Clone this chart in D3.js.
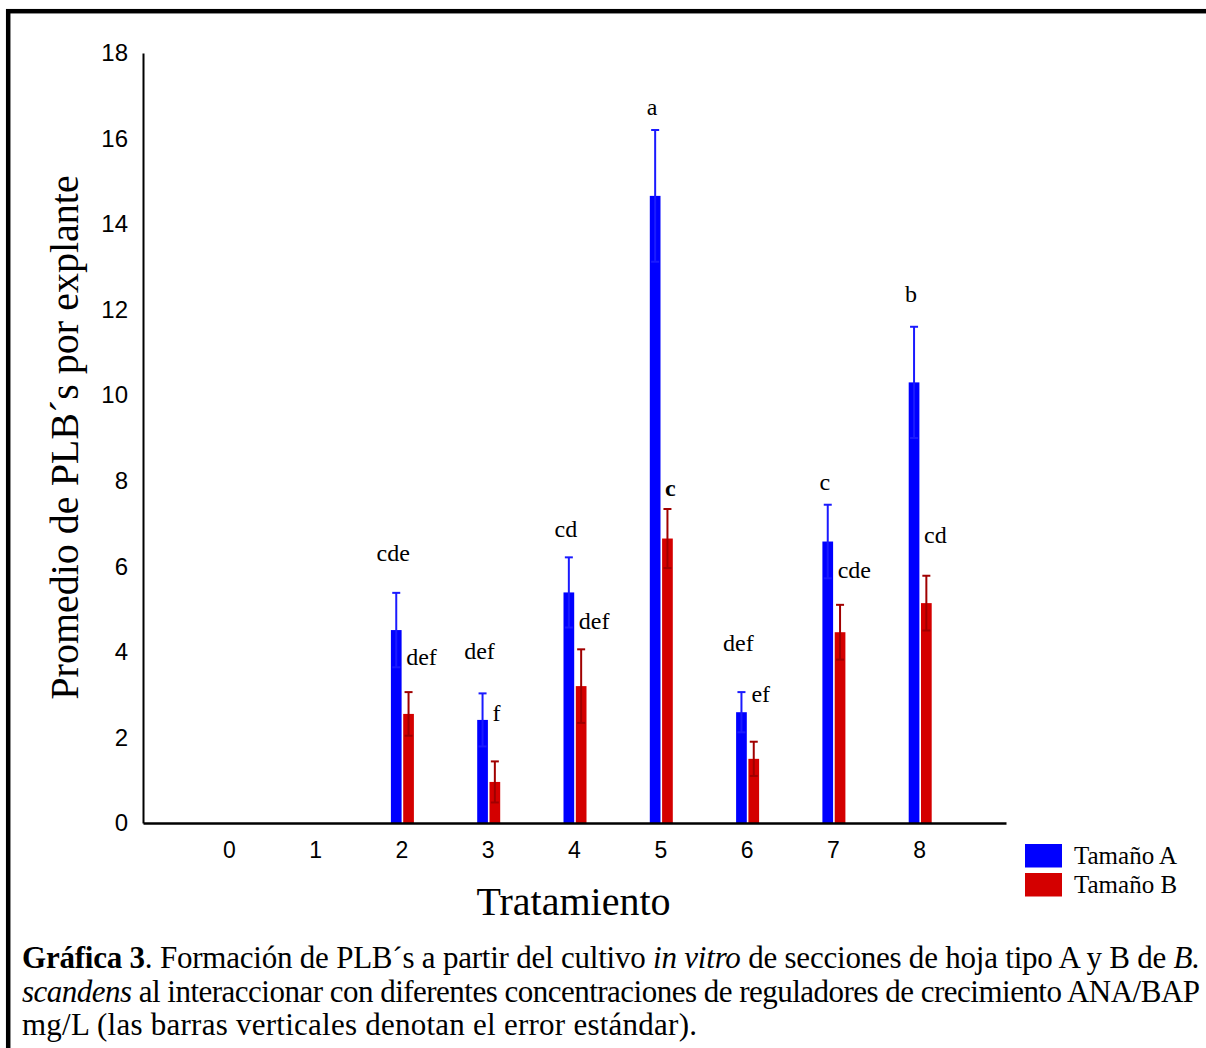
<!DOCTYPE html>
<html>
<head>
<meta charset="utf-8">
<script src="https://cdn.jsdelivr.net/npm/d3@7"></script>
<style>
  body { margin: 0; background: #fff; }
  svg { display: block; }
</style>
</head>
<body>
<svg id="chart"></svg>
<script>
// treatments on the x axis
const tratamientos = [0, 1, 2, 3, 4, 5, 6, 7, 8];
// mean PLB's per explant and standard error, leaf section size A
const tamanoA = [0, 0, 4.51, 2.41, 5.39, 14.66, 2.59, 6.58, 10.30];
const errorA = [0, 0, 0.87, 0.62, 0.82, 1.54, 0.47, 0.86, 1.30];
// leaf section size B
const tamanoB = [0, 0, 2.55, 0.96, 3.20, 6.65, 1.50, 4.46, 5.14];
const errorB = [0, 0, 0.51, 0.48, 0.86, 0.69, 0.40, 0.64, 0.64];
// significance letters and where they sit (in y units)
const letrasA = ["", "", "cde", "def", "cd", "a", "def", "c", "b"];
const letrasB = ["", "", "def", "f", "def", "c", "ef", "cde", "cd"];
const letraYA = [0, 0, 6.13, 3.83, 6.69, 16.55, 4.03, 7.78, 12.17];
const letraYB = [0, 0, 3.69, 2.38, 4.53, 7.64, 2.84, 5.72, 6.54];
const yTicks = [0, 2, 4, 6, 8, 10, 12, 14, 16, 18];
const series = ["Tamaño A", "Tamaño B"];
const colores = ["#0000ff", "#d40000"];
const coloresError = ["#1a1aff", "#a00000"];

function grafica() {
    const width = 1206;
    const height = 1048;
    const serif = "'Liberation Serif', 'Times New Roman', serif";
    const sans = "'Liberation Sans', Arial, sans-serif";

    const svg = d3.select("#chart")
        .attr("width", width)
        .attr("height", height);

    // outer frame, cut off at right and bottom like the original
    svg.append("rect")
        .attr("x", 8.2).attr("y", 11.2)
        .attr("width", 1400).attr("height", 1200)
        .attr("fill", "none")
        .attr("stroke", "#000")
        .attr("stroke-width", 4.5);

    const x = d3.scaleBand()
        .domain(tratamientos)
        .range([143, 1006])
        .paddingInner(0)
        .paddingOuter(0.5);
    const xSub = d3.scaleBand()
        .domain(series)
        .range([-11, 12])
        .paddingInner(0.13);
    const y = d3.scaleLinear()
        .domain([0, 18])
        .range([823, 53]);

    const rows = tratamientos.map((t, i) => [
        {t, s: 0, v: tamanoA[i], e: errorA[i], letra: letrasA[i], ly: letraYA[i]},
        {t, s: 1, v: tamanoB[i], e: errorB[i], letra: letrasB[i], ly: letraYB[i]}
    ]).flat();
    const cx = d => x(d.t) + x.bandwidth() / 2 + xSub(series[d.s]);
    const mid = d => cx(d) + xSub.bandwidth() / 2;

    // bars
    svg.append("g")
      .selectAll("rect")
      .data(rows.filter(d => d.v > 0))
      .join("rect")
        .attr("x", cx)
        .attr("y", d => y(d.v))
        .attr("width", xSub.bandwidth())
        .attr("height", d => y(0) - y(d.v))
        .attr("fill", d => colores[d.s]);

    // error bars
    const eb = svg.append("g")
      .selectAll("g")
      .data(rows.filter(d => d.v > 0))
      .join("g")
        .attr("stroke", d => coloresError[d.s])
        .attr("stroke-width", 2);
    eb.append("line")
        .attr("x1", mid).attr("x2", mid)
        .attr("y1", d => y(d.v - d.e))
        .attr("y2", d => y(d.v + d.e));
    eb.append("line")
        .attr("x1", d => mid(d) - 4).attr("x2", d => mid(d) + 4)
        .attr("y1", d => y(d.v + d.e)).attr("y2", d => y(d.v + d.e));
    eb.append("line")
        .attr("x1", d => mid(d) - 4).attr("x2", d => mid(d) + 4)
        .attr("y1", d => y(d.v - d.e)).attr("y2", d => y(d.v - d.e));

    // letters
    svg.append("g")
        .attr("font-family", serif)
        .attr("font-size", 24)
        .attr("fill", "#000")
      .selectAll("text")
      .data(rows.filter(d => d.letra))
      .join("text")
        .attr("x", d => d.s === 0 ? mid(d) - 3 : cx(d) + 3)
        .attr("y", d => y(d.ly))
        .attr("text-anchor", d => d.s === 0 ? "middle" : "start")
        .attr("font-weight", d => d.s === 1 && d.t === 5 ? "bold" : "normal")
        .text(d => d.letra);

    // axes
    svg.append("g")
        .attr("transform", `translate(143,0)`)
        .call(d3.axisLeft(y).tickValues(yTicks).tickSize(0).tickPadding(15))
        .call(g => g.select(".domain").attr("stroke-width", 2))
        .call(g => g.selectAll("text").attr("font-family", sans).attr("font-size", 24).attr("fill", "#000"));

    svg.append("g")
        .attr("transform", `translate(0,${y(0)})`)
        .call(d3.axisBottom(x).tickSize(0).tickPadding(19))
        .call(g => g.select(".domain").attr("stroke-width", 2.5))
        .call(g => g.selectAll("text").attr("font-family", sans).attr("font-size", 23).attr("fill", "#000"));

    // axis titles
    svg.append("text")
        .attr("transform", "translate(78,437.5) rotate(-90)")
        .attr("text-anchor", "middle")
        .attr("font-family", serif)
        .attr("font-size", 40)
        .text("Promedio de PLB´s por explante");

    svg.append("text")
        .attr("x", 573.5).attr("y", 915)
        .attr("text-anchor", "middle")
        .attr("font-family", serif)
        .attr("font-size", 40)
        .text("Tratamiento");

    // legend
    const legend = svg.append("g")
      .selectAll("g")
      .data(series)
      .join("g")
        .attr("transform", (d, i) => `translate(1025,${844 + i * 29})`);
    legend.append("rect")
        .attr("width", 37).attr("height", 23.5)
        .attr("fill", (d, i) => colores[i]);
    legend.append("text")
        .attr("x", 49).attr("y", 19.5)
        .attr("font-family", serif)
        .attr("font-size", 25)
        .text(d => d);

    // caption
    const cap = svg.append("g")
        .attr("font-family", serif)
        .attr("font-size", 31)
        .attr("fill", "#000");
    const l1 = cap.append("text")
        .attr("x", 22).attr("y", 968)
        .attr("textLength", 1178).attr("lengthAdjust", "spacing");
    l1.append("tspan").attr("font-weight", "bold").text("Gráfica 3");
    l1.append("tspan").text(". Formación de PLB´s a partir del cultivo ");
    l1.append("tspan").attr("font-style", "italic").text("in vitro");
    l1.append("tspan").text(" de secciones de hoja tipo A y B de ");
    l1.append("tspan").attr("font-style", "italic").text("B.");
    const l2 = cap.append("text")
        .attr("x", 22).attr("y", 1002)
        .attr("textLength", 1178).attr("lengthAdjust", "spacing");
    l2.append("tspan").attr("font-style", "italic").text("scandens");
    l2.append("tspan").text(" al interaccionar con diferentes concentraciones de reguladores de crecimiento ANA/BAP");
    cap.append("text")
        .attr("x", 22).attr("y", 1035)
        .attr("textLength", 675).attr("lengthAdjust", "spacing")
        .text("mg/L (las barras verticales denotan el error estándar).");

    return svg.node();
}

grafica();
</script>
</body>
</html>
